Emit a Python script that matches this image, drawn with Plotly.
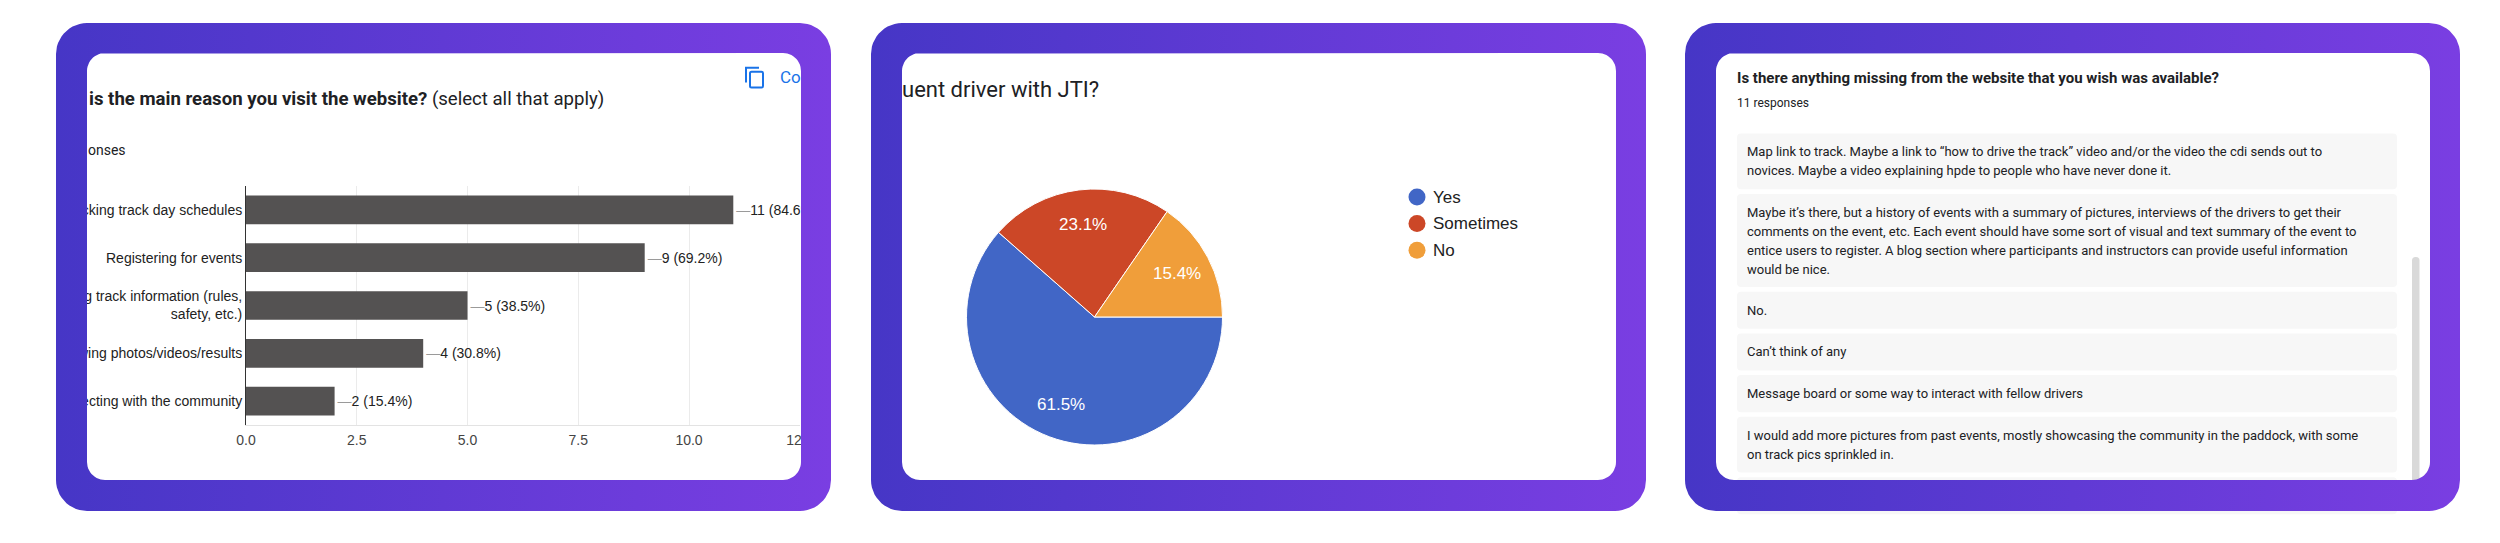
import numpy as np
import plotly.graph_objects as go

W, H = 2500, 543

# ---- data ----
reasons = ["Checking track day schedules",
           "Registering for events",
           "Finding track information (rules,<br>safety, etc.)",
           "Viewing photos/videos/results",
           "Connecting with the community"]
reason_counts = [11, 9, 5, 4, 2]
reason_pcts = [84.6, 69.2, 38.5, 30.8, 15.4]
reason_ticks = [0, 2.5, 5, 7.5, 10, 12.5]

driver_labels = ["Yes", "Sometimes", "No"]
driver_pcts = [61.5, 23.1, 15.4]
driver_colors = ["#4166c6", "#cc4727", "#f09e3a"]

missing_title = "Is there anything missing from the website that you wish was available?"
missing_count = "11 responses"
missing_responses = [
    ["Map link to track. Maybe a link to \u201chow to drive the track\u201d video and/or the video the cdi sends out to",
     "novices. Maybe a video explaining hpde to people who have never done it."],
    ["Maybe it\u2019s there, but a history of events with a summary of pictures, interviews of the drivers to get their",
     "comments on the event, etc. Each event should have some sort of visual and text summary of the event to",
     "entice users to register. A blog section where participants and instructors can provide useful information",
     "would be nice."],
    ["No."],
    ["Can\u2019t think of any"],
    ["Message board or some way to interact with fellow drivers"],
    ["I would add more pictures from past events, mostly showcasing the community in the paddock, with some",
     "on track pics sprinkled in."],
    [""],
]

# ---- panel geometry (pixels, y from top) ----
PANEL_X = [56, 871, 1685]
PANEL_W = 775
PANEL_Y0, PANEL_Y1 = 23, 511
FRAME_L, FRAME_R, FRAME_T, FRAME_B = 31, 30, 30, 31
R_OUT, R_IN = 31, 18
GRAD = [[0, "#4636c6"], [1, "#7a3ee2"]]

TXT = "#202124"
ARIAL = "Arial, Liberation Sans, sans-serif"
ROBOTO = "Roboto, Arial, sans-serif"


def rounded_loop(x0, y0, x1, y1, r, n=14):
    xs, ys = [], []
    for cx, cy, a0 in [(x1 - r, y0 + r, -90), (x1 - r, y1 - r, 0),
                       (x0 + r, y1 - r, 90), (x0 + r, y0 + r, 180)]:
        t = np.radians(np.linspace(a0, a0 + 90, n))
        xs += list(cx + r * np.cos(t))
        ys += list(cy + r * np.sin(t))
    return xs + [xs[0]], ys + [ys[0]]


def rr_path(x0, y0, x1, y1, r):
    return (f"M{x0+r},{y0} L{x1-r},{y0} Q{x1},{y0} {x1},{y0+r} L{x1},{y1-r} "
            f"Q{x1},{y1} {x1-r},{y1} L{x0+r},{y1} Q{x0},{y1} {x0},{y1-r} "
            f"L{x0},{y0+r} Q{x0},{y0} {x0+r},{y0} Z")


def py(v):
    return 1 - v / H


fig = go.Figure()

# ---- panel 1: horizontal bars ----
bar_text = ["<span style='color:#9a9a9a'>\u2014</span>%d (%.1f%%)" % (c, p)
            for c, p in zip(reason_counts, reason_pcts)]
fig.add_trace(go.Bar(
    y=reasons, x=reason_counts, orientation="h",
    marker=dict(color="#545252", line=dict(width=0)),
    text=bar_text, textposition="outside", cliponaxis=False,
    constraintext="none",
    outsidetextfont=dict(family=ARIAL, size=14, color="#222222"),
    hoverinfo="skip", xaxis="x", yaxis="y", showlegend=False))

# ---- panel 2: pie ----
pie_cx, pie_cy, pie_r = 1094.5, 317, 128
PIE_ROT = 90
fig.add_trace(go.Pie(
    labels=driver_labels, values=driver_pcts, sort=False,
    direction="clockwise", rotation=PIE_ROT,
    marker=dict(colors=driver_colors, line=dict(color="white", width=1)),
    textinfo="none",
    domain=dict(x=[(pie_cx - pie_r) / W, (pie_cx + pie_r) / W],
                y=[py(pie_cy + pie_r), py(pie_cy - pie_r)]),
    hoverinfo="skip", showlegend=False))

# legend dots for the pie
LEG_X, LEG_Y0, LEG_STEP = 1417, 197, 26.6
leg_y = [LEG_Y0 + i * LEG_STEP for i in range(len(driver_labels))]
fig.add_trace(go.Scatter(
    x=[LEG_X] * len(driver_labels), y=leg_y, mode="markers",
    marker=dict(size=17, color=driver_colors, line=dict(width=0)),
    xaxis="x2", yaxis="y2", hoverinfo="skip", showlegend=False))

# ---- frames (drawn last so they hide overflow) ----
fig.add_trace(go.Scatter(
    x=[0, PANEL_X[0], PANEL_X[0], 0, 0], y=[0, 0, H, H, 0],
    mode="lines", line=dict(width=0), fill="toself", fillcolor="white",
    xaxis="x2", yaxis="y2", hoverinfo="skip", showlegend=False))
for px0 in PANEL_X:
    ox, oy = rounded_loop(px0, PANEL_Y0, px0 + PANEL_W, PANEL_Y1, R_OUT)
    ix, iy = rounded_loop(px0 + FRAME_L, PANEL_Y0 + FRAME_T,
                          px0 + PANEL_W - FRAME_R, PANEL_Y1 - FRAME_B, R_IN)
    fig.add_trace(go.Scatter(
        x=ox + [None] + ix[::-1], y=oy + [None] + iy[::-1],
        mode="lines", line=dict(width=0), fill="toself",
        fillgradient=dict(type="horizontal", colorscale=GRAD),
        xaxis="x2", yaxis="y2", hoverinfo="skip", showlegend=False))

shapes = []
annotations = []


def note(x, y, text, size, color=TXT, family=ROBOTO, anchor="left"):
    annotations.append(dict(x=x, y=y, xref="x2", yref="y2", text=text,
                            showarrow=False, xanchor=anchor, yanchor="middle",
                            font=dict(family=family, size=size, color=color)))


# panel 1 texts
note(87, 99, "<b>is the main reason you visit the website?</b> (select all that apply)", 18.6)
note(86, 150, "onses", 14)
note(778, 77, "Co", 17, color="#1a73e8")
shapes.append(dict(type="path", path="M746,82.5 V67.8 H759", xref="x2", yref="y2",
                   line=dict(color="#1a73e8", width=2), layer="above"))
shapes.append(dict(type="path", path=rr_path(750, 71.8, 763, 87.5, 1.5), xref="x2",
                   yref="y2", line=dict(color="#1a73e8", width=2), layer="above"))

# panel 2 texts: slice labels sit on each slice's mid angle
note(900, 89, "uent driver with JTI?", 22)
total = sum(driver_pcts)
start = PIE_ROT
for pct in driver_pcts:
    mid = np.radians(start + 360 * pct / total / 2)
    note(pie_cx + 0.73 * pie_r * np.sin(mid), pie_cy - 0.73 * pie_r * np.cos(mid),
         "%.1f%%" % pct, 17, color="white", family=ARIAL, anchor="center")
    start += 360 * pct / total
for lab, yy in zip(driver_labels, leg_y):
    note(1431, yy, lab, 17, color="#222222", family=ARIAL)

# panel 3: text responses
note(1735, 78, "<b>" + missing_title + "</b>", 15)
note(1735, 103, missing_count, 12)
BOX_X0, BOX_X1 = 1737, 2397
BOX_TOP, BOX_GAP, BOX_PAD, BOX_LH, LINE_H = 133.5, 4.6, 9.2, 18.7, 19
top = BOX_TOP
for lines in missing_responses:
    h = 2 * BOX_PAD + BOX_LH * len(lines)
    shapes.append(dict(type="path", path=rr_path(BOX_X0, top, BOX_X1, top + h, 4),
                       xref="x2", yref="y2", fillcolor="#f7f7f7",
                       line=dict(width=0), layer="below"))
    mid = top + h / 2
    for j, ln in enumerate(lines):
        if ln:
            note(1745, mid + (j - (len(lines) - 1) / 2) * LINE_H, ln, 13)
    top += h + BOX_GAP
shapes.append(dict(type="path", path=rr_path(2412, 257, 2419.5, 495, 3.5),
                   xref="x2", yref="y2", fillcolor="#d9d9d9",
                   line=dict(width=0), layer="below"))

fig.update_layout(
    width=W, height=H, margin=dict(l=0, r=0, t=0, b=0),
    template="none", paper_bgcolor="white", plot_bgcolor="rgba(0,0,0,0)",
    showlegend=False, bargap=0.4, hovermode=False,
    xaxis=dict(domain=[246 / W, 799.75 / W], range=[0, 12.5],
               tickvals=reason_ticks, tickformat=".1f", showgrid=True,
               gridcolor="#ebebeb", gridwidth=1, zeroline=False,
               showline=True, linecolor="#e3e3e3", linewidth=1, ticks="",
               ticklabelstandoff=2, automargin=False, anchor="y",
               tickfont=dict(family=ARIAL, size=14, color="#444444"),
               fixedrange=True),
    yaxis=dict(domain=[py(425), py(186)], autorange="reversed",
               showgrid=False, zeroline=False, showline=True,
               linecolor="#333333", linewidth=1, ticks="",
               ticklabelstandoff=0, automargin=False, anchor="x",
               tickfont=dict(family=ARIAL, size=14, color="#222222"),
               fixedrange=True),
    xaxis2=dict(domain=[0, 1], range=[0, W], visible=False, anchor="y2",
                fixedrange=True),
    yaxis2=dict(domain=[0, 1], range=[H, 0], visible=False, anchor="x2",
                fixedrange=True),
    shapes=shapes, annotations=annotations,
)

# the page's default 8px body margin would shift everything
fig.write_html("out.html", config={"displayModeBar": False},
               post_script="document.body.style.margin='0';")
